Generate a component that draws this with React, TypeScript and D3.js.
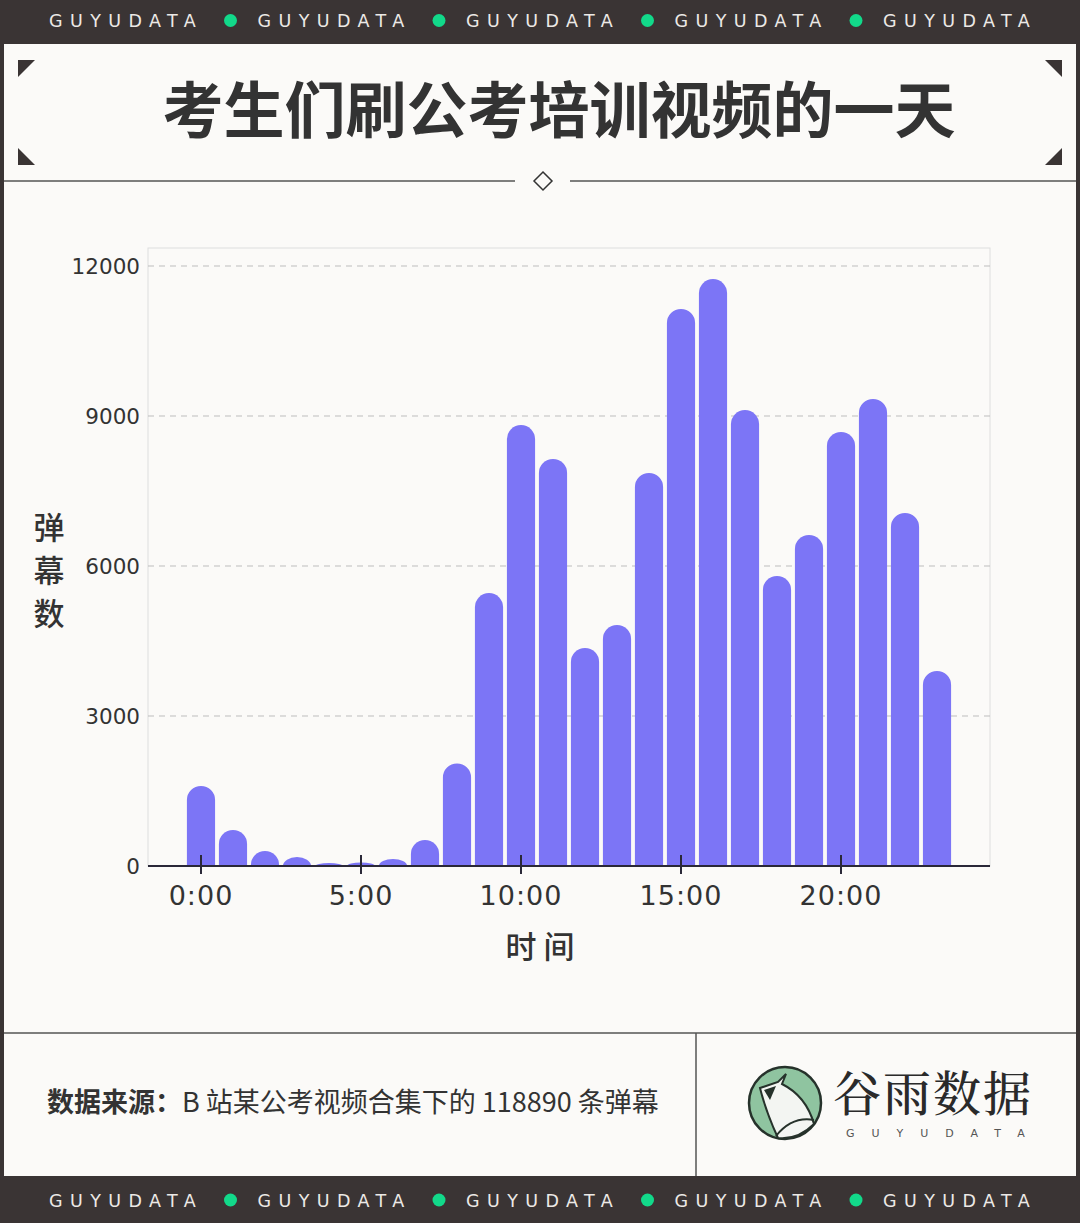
import React from 'react';
import * as d3 from 'd3';

// hourly danmaku counts, 0:00 .. 23:00
const hours = d3.range(24);
const counts = [
  1600, 720, 300, 180, 60, 70, 140, 520, 2050, 5460, 8820, 8140,
  4360, 4820, 7860, 11140, 11740, 9120, 5800, 6620, 8680, 9340, 7060, 3900,
];
const yTicks = [0, 3000, 6000, 9000, 12000];
const xTicks = [0, 5, 10, 15, 20];

const W = 1080;
const H = 1223;
const plot = { left: 148, right: 990, top: 248, bottom: 866 };

const DARK = '#3a3434';
const GREEN = '#12d98a';
const BAR = '#7c75f6';
const geo = '"DejaVu Sans", sans-serif';
const cjk = '"Noto Sans CJK SC", sans-serif';

const Banner = ({ y, h, ty }: { y: number; h: number; ty: number }) => {
  const words = d3.range(5);
  return (
    <g>
      <rect x={0} y={y} width={W} height={h} fill={DARK} />
      {words.map((i) => (
        <text
          key={i}
          x={49 + i * 208.5}
          y={y + ty}
          fill="#ece9e6"
          fontFamily={geo}
          fontSize={17.5}
          letterSpacing={7.4}
        >
          GUYUDATA
        </text>
      ))}
      {words.slice(0, 4).map((i) => (
        <circle key={i} cx={230.5 + i * 208.5} cy={y + ty - 6.5} r={6.5} fill={GREEN} />
      ))}
    </g>
  );
};

const App = () => {
  const x = d3
    .scaleBand<number>()
    .domain(hours)
    .range([plot.left, plot.right])
    .paddingInner(0.12)
    .paddingOuter(1.216);
  const y = d3.scaleLinear().domain([0, 12000]).range([plot.bottom, plot.bottom - 600]);
  const bw = x.bandwidth();
  const cx = (h: number) => (x(h) as number) + bw / 2;

  const barPath = (h: number, v: number) => {
    const x0 = x(h) as number;
    const top = y(v);
    const hgt = plot.bottom - top;
    const r = bw / 2;
    const ry = Math.min(r, hgt);
    return `M${x0},${plot.bottom}L${x0},${top + ry}A${r},${ry} 0 0 1 ${x0 + bw},${top + ry}L${x0 + bw},${plot.bottom}Z`;
  };

  return (
    <div style={{ position: 'absolute', left: 0, top: 0 }}>
      <svg width={W} height={H} viewBox={`0 0 ${W} ${H}`}>
        <rect x={0} y={0} width={W} height={H} fill="#fbfaf8" />
        {/* side borders */}
        <rect x={0} y={0} width={4} height={H} fill={DARK} />
        <rect x={W - 4} y={0} width={4} height={H} fill={DARK} />
        <Banner y={0} h={44} ty={27} />
        <Banner y={1176} h={47} ty={30.5} />

        {/* title block */}
        <path d="M18,60L35,60L18,77Z" fill={DARK} />
        <path d="M18,148L18,165L35,165Z" fill={DARK} />
        <path d="M1062,60L1045,60L1062,77Z" fill={DARK} />
        <path d="M1062,148L1062,165L1045,165Z" fill={DARK} />
        <text
          x={559}
          y={133}
          textAnchor="middle"
          fontFamily={cjk}
          fontWeight={700}
          fontSize={61}
          fill="#333"
        >
          考生们刷公考培训视频的一天
        </text>
        <line x1={4} x2={515} y1={181} y2={181} stroke="#555" strokeWidth={1.5} />
        <line x1={570} x2={W - 4} y1={181} y2={181} stroke="#555" strokeWidth={1.5} />
        <path d="M543,172L552,181L543,190L534,181Z" fill="none" stroke="#333" strokeWidth={1.5} />

        {/* plot frame and grid */}
        <rect
          x={plot.left}
          y={plot.top}
          width={plot.right - plot.left}
          height={plot.bottom - plot.top}
          fill="none"
          stroke="#dedede"
          strokeWidth={1}
        />
        {yTicks.slice(1).map((t) => (
          <line
            key={t}
            x1={plot.left}
            x2={plot.right}
            y1={y(t)}
            y2={y(t)}
            stroke="#bdbdbd"
            strokeWidth={1}
            strokeDasharray="6,5"
          />
        ))}
        {yTicks.map((t) => (
          <text
            key={t}
            x={140}
            y={y(t) + 8}
            textAnchor="end"
            fontFamily={geo}
            fontSize={21.5}
            fill="#333"
          >
            {t}
          </text>
        ))}

        {/* bars */}
        {hours.map((h, i) => (
          <path key={h} d={barPath(h, counts[i])} fill={BAR} />
        ))}

        {/* x axis */}
        <line
          x1={plot.left}
          x2={plot.right}
          y1={plot.bottom}
          y2={plot.bottom}
          stroke="#2a2838"
          strokeWidth={2}
        />
        {xTicks.map((t) => (
          <g key={t}>
            <line x1={cx(t)} x2={cx(t)} y1={855} y2={874} stroke="#2a2838" strokeWidth={2} />
            <text
              x={cx(t)}
              y={905}
              textAnchor="middle"
              fontFamily={geo}
              fontSize={27}
              fontWeight={500}
              letterSpacing={1}
              fill="#333"
            >
              {`${t}:00`}
            </text>
          </g>
        ))}
        <text x={540} y={958} textAnchor="middle" fontFamily={cjk} fontSize={31} fontWeight={500} fill="#333">
          时 间
        </text>
        {['弹', '幕', '数'].map((c, i) => (
          <text
            key={c}
            x={49}
            y={539 + i * 43}
            textAnchor="middle"
            fontFamily={cjk}
            fontSize={31}
            fontWeight={500}
            fill="#333"
          >
            {c}
          </text>
        ))}

        {/* footer */}
        <line x1={4} x2={W - 4} y1={1033} y2={1033} stroke="#555" strokeWidth={1.5} />
        <line x1={696} x2={696} y1={1033} y2={1176} stroke="#555" strokeWidth={1.5} />
        <text x={47} y={1112} fontFamily={cjk} fontSize={27} fill="#333">
          <tspan fontWeight={700}>数据来源：</tspan>
          <tspan>B 站某公考视频合集下的 118890 条弹幕</tspan>
        </text>

        {/* logo */}
        <g>
          <circle cx={785} cy={1103} r={36} fill="#8fc4a0" stroke="#26322b" strokeWidth={2.5} />
          <path
            d="M760,1088 L778,1082 L786,1074 L782,1084 Q806,1096 814,1124 Q798,1140 778,1138 Q766,1112 760,1088 Z"
            fill="#f3f5f2"
            stroke="#26322b"
            strokeWidth={2}
          />
          <path d="M764,1090 L776,1086 L770,1100 Z" fill="#26322b" />
          <path d="M776,1136 Q792,1116 814,1120" fill="none" stroke="#26322b" strokeWidth={2} />
        </g>
        <text
          x={833}
          y={1111}
          fontFamily='"Noto Serif CJK SC", "Noto Sans CJK SC", serif'
          fontSize={48}
          fontWeight={500}
          fill="#2a2a2a"
          letterSpacing={2}
        >
          谷雨数据
        </text>
        <text
          x={846}
          y={1137}
          fontFamily={geo}
          fontSize={11}
          letterSpacing={17}
          fill="#555"
        >
          GUYUDATA
        </text>
      </svg>
    </div>
  );
};

export default App;
